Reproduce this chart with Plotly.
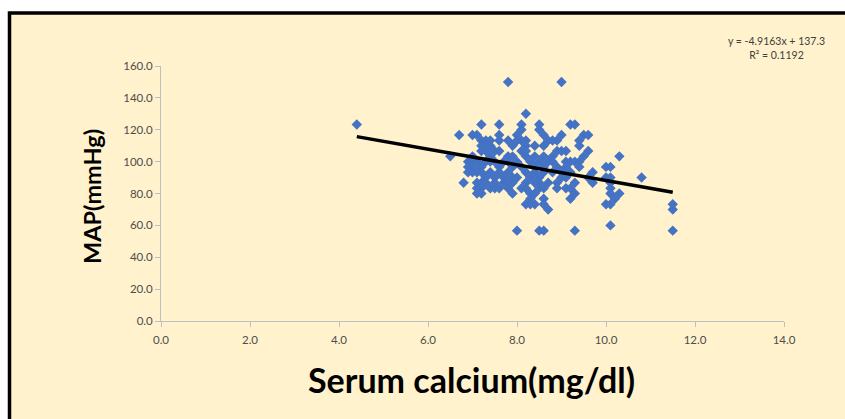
import plotly.graph_objects as go

# ---- data ----
calcium = [
    7.8, 9.0,
    8.2,
    4.4, 7.2, 7.6, 8.1, 8.5, 9.2, 9.3,
    8.1, 8.5,
    6.7, 7.0, 7.1, 7.6, 8.0, 8.6, 9.0, 9.5, 9.6,
    7.2, 7.3, 7.4, 7.6, 7.8, 8.0, 8.1, 8.2, 8.7, 8.8, 8.9, 9.4,
    7.2, 7.3, 7.4, 7.9, 8.2, 8.4, 8.6, 9.4,
    7.2, 7.3, 7.5, 7.6, 8.1, 8.2, 8.9, 9.0, 9.1, 9.6,
    6.5, 7.0, 7.4, 7.8, 7.9, 8.2, 8.4, 8.6, 8.8, 9.5, 10.3,
    6.9, 7.0, 7.1, 7.3, 7.4, 7.5, 7.7, 7.8, 8.0, 8.3, 8.5, 8.7, 8.8, 9.1, 9.2, 9.3, 9.4,
    6.9, 7.0, 7.2, 7.6, 7.9, 8.1, 8.4, 8.6, 8.9, 9.1, 9.4, 10.0, 10.1,
    6.9, 7.0, 7.1, 7.2, 7.4, 7.6, 7.8, 8.2, 8.4, 8.6, 8.8, 9.0, 9.2, 9.7,
    7.3, 7.5, 7.7, 7.9, 8.0, 8.3, 8.5, 9.0, 9.1, 9.6, 10.0, 10.1, 10.8,
    6.8, 7.1, 7.2, 7.3, 7.5, 7.7, 7.8, 7.9, 8.2, 8.4, 8.5, 8.7, 8.9, 9.3, 9.7, 10.1,
    7.1, 7.2, 7.4, 7.5, 7.6, 7.8, 8.1, 8.2, 8.5, 8.6, 8.9, 9.1, 9.2, 10.1,
    7.1, 7.2, 7.9, 8.3, 8.4, 9.3, 10.1, 10.3,
    8.6, 9.2, 10.2, 8.3,
    8.2, 8.3, 8.4, 8.6, 10.0, 10.1, 11.5,
    8.7, 11.5,
    10.1,
    8.0, 8.5, 8.6, 9.3, 11.5,
]
map_mmhg = (
    [150.0] * 2
    + [130.0] * 1
    + [123.3] * 7
    + [120.0] * 2
    + [116.7] * 9
    + [113.3] * 12
    + [110.0] * 8
    + [106.7] * 10
    + [103.3] * 11
    + [100.0] * 17
    + [96.7] * 13
    + [93.3] * 14
    + [90.0] * 13
    + [86.7] * 16
    + [83.3] * 14
    + [80.0] * 8
    + [76.7] * 4
    + [73.3] * 7
    + [70.0] * 2
    + [60.0] * 1
    + [56.7] * 5
)

trend_slope = -4.9163
trend_intercept = 137.3
trend_r2 = 0.1192
trend_x = [4.4, 11.5]
trend_y = [trend_slope * v + trend_intercept for v in trend_x]

x_ticks = [0, 2, 4, 6, 8, 10, 12, 14]
y_ticks = [0, 20, 40, 60, 80, 100, 120, 140, 160]

x_title = "Serum calcium(mg/dl)"
y_title = "MAP(mmHg)"

# ---- figure ----
W, H = 845, 419
L, R, T, B = 161, 61, 66, 98
pw, ph = W - L - R, H - T - B

def px2paper_x(px):
    return (px - L) / pw

def py2paper_y(py):
    return (H - B - py) / ph

FONT = "Lato, 'Open Sans', Arial, sans-serif"

fig = go.Figure()
fig.add_trace(go.Scatter(
    x=calcium, y=map_mmhg, mode="markers",
    marker=dict(symbol="diamond", size=8, color="#4472C4", line=dict(width=0)),
    showlegend=False, hoverinfo="x+y",
))
fig.add_trace(go.Scatter(
    x=trend_x, y=trend_y, mode="lines",
    line=dict(color="black", width=3.5),
    showlegend=False, hoverinfo="skip",
))

tick_font = dict(family=FONT, size=11.5, color="#4D4D4D")
axis_common = dict(
    showgrid=False, zeroline=False, showline=True, linecolor="#BFBFBF", linewidth=1,
    ticks="outside", ticklen=5, tickcolor="#BFBFBF", tickfont=tick_font,
    tickformat=".1f",
)
fig.update_xaxes(range=[0, 14], tickvals=x_ticks, ticklabelstandoff=3, **axis_common)
fig.update_yaxes(range=[0, 160], tickvals=y_ticks, **axis_common)

fig.update_layout(
    width=W, height=H,
    margin=dict(l=L, r=R, t=T, b=B, autoexpand=False),
    paper_bgcolor="white",
    plot_bgcolor="rgba(0,0,0,0)",
    shapes=[dict(
        type="rect", xref="paper", yref="paper", layer="below",
        x0=px2paper_x(9.5), x1=px2paper_x(W + 10),
        y0=py2paper_y(H + 10), y1=py2paper_y(13),
        line=dict(color="black", width=3.5), fillcolor="#FFF2CC",
    )],
    annotations=[
        dict(text=x_title, xref="paper", yref="paper",
             x=px2paper_x(471), y=py2paper_y(379), xanchor="center", yanchor="middle",
             showarrow=False,
             font=dict(family=FONT, size=34, color="black", weight="bold")),
        dict(text=y_title, xref="paper", yref="paper",
             x=px2paper_x(92), y=py2paper_y(197), xanchor="center", yanchor="middle",
             textangle=-90, showarrow=False,
             font=dict(family=FONT, size=23.5, color="black", weight="bold")),
        dict(text=f"y = {trend_slope}x + {trend_intercept}<br>R² = {trend_r2}",
             xref="paper", yref="paper",
             x=px2paper_x(776), y=py2paper_y(48), xanchor="center", yanchor="middle",
             align="center", showarrow=False,
             font=dict(family=FONT, size=10.5, color="#404040")),
    ],
)

fig.write_html("out.html")
